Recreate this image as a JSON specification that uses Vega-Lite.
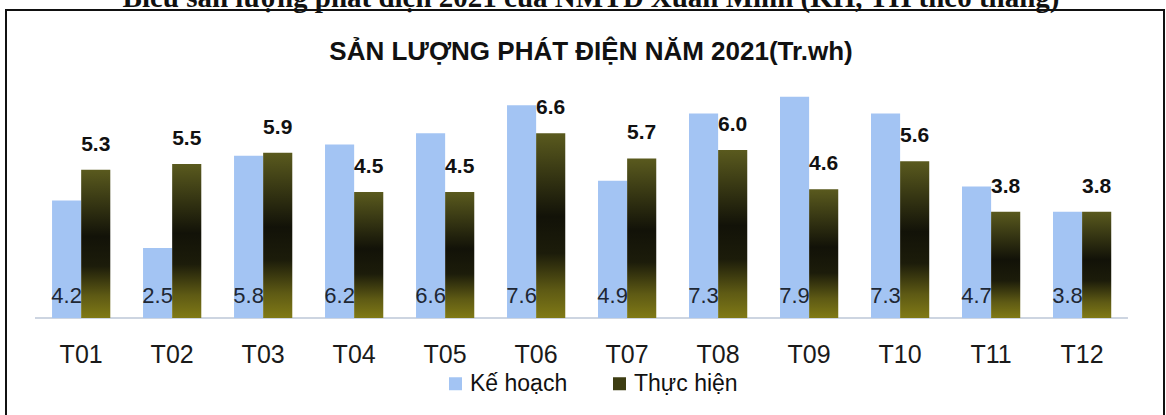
{
  "$schema": "https://vega.github.io/schema/vega-lite/v6.json",
  "width": 1158,
  "height": 410,
  "autosize": "none",
  "padding": {"left": 6, "top": 10, "right": 2, "bottom": 0},
  "background": "white",
  "config": {
    "view": {"stroke": "#111111", "strokeWidth": 2},
    "font": "Liberation Sans"
  },
  "title": {
    "text": "Biểu sản lượng phát điện 2021 của NMTĐ Xuân Minh (KH, TH theo tháng)",
    "subtitle": "SẢN LƯỢNG PHÁT ĐIỆN NĂM 2021(Tr.wh)",
    "font": "Liberation Serif",
    "fontSize": 29,
    "fontWeight": "bold",
    "color": "#111111",
    "subtitleFont": "Liberation Sans",
    "subtitleFontSize": 26,
    "subtitleFontWeight": "bold",
    "subtitleColor": "#111111",
    "subtitlePadding": 26,
    "anchor": "middle",
    "frame": "group",
    "offset": -55,
    "dx": 6
  },
  "data": {
    "values": [
      {"month": "T01", "series": "Kế hoạch", "value": 4.2},
      {"month": "T02", "series": "Kế hoạch", "value": 2.5},
      {"month": "T03", "series": "Kế hoạch", "value": 5.8},
      {"month": "T04", "series": "Kế hoạch", "value": 6.2},
      {"month": "T05", "series": "Kế hoạch", "value": 6.6},
      {"month": "T06", "series": "Kế hoạch", "value": 7.6},
      {"month": "T07", "series": "Kế hoạch", "value": 4.9},
      {"month": "T08", "series": "Kế hoạch", "value": 7.3},
      {"month": "T09", "series": "Kế hoạch", "value": 7.9},
      {"month": "T10", "series": "Kế hoạch", "value": 7.3},
      {"month": "T11", "series": "Kế hoạch", "value": 4.7},
      {"month": "T12", "series": "Kế hoạch", "value": 3.8},
      {"month": "T01", "series": "Thực hiện", "value": 5.3},
      {"month": "T02", "series": "Thực hiện", "value": 5.5},
      {"month": "T03", "series": "Thực hiện", "value": 5.9},
      {"month": "T04", "series": "Thực hiện", "value": 4.5},
      {"month": "T05", "series": "Thực hiện", "value": 4.5},
      {"month": "T06", "series": "Thực hiện", "value": 6.6},
      {"month": "T07", "series": "Thực hiện", "value": 5.7},
      {"month": "T08", "series": "Thực hiện", "value": 6.0},
      {"month": "T09", "series": "Thực hiện", "value": 4.6},
      {"month": "T10", "series": "Thực hiện", "value": 5.6},
      {"month": "T11", "series": "Thực hiện", "value": 3.8},
      {"month": "T12", "series": "Thực hiện", "value": 3.8}
    ]
  },
  "encoding": {
    "x": {
      "field": "month",
      "type": "nominal",
      "sort": null,
      "scale": {
        "domain": ["T01", "T02", "T03", "T04", "T05", "T06", "T07", "T08", "T09", "T10", "T11", "T12"],
        "paddingInner": 0.36, "paddingOuter": 0.543, "align": 0.466
      },
      "axis": {
        "orient": "bottom",
        "offset": -102,
        "domain": false,
        "ticks": false,
        "grid": false,
        "title": null,
        "labelAngle": 0,
        "labelFont": "Liberation Sans",
        "labelFontSize": 25,
        "labelColor": "#1a1a1a",
        "labelPadding": 24
      }
    }
  },
  "layer": [
    {
      "mark": {"type": "rule", "xOffset": -17, "x2Offset": 16, "color": "#cdd4e0", "strokeWidth": 1.5},
      "encoding": {
        "x": {"datum": "T01", "bandPosition": 0},
        "x2": {"datum": "T12", "bandPosition": 1},
        "y": {"datum": 0, "type": "quantitative", "scale": {"domain": [-3.64, 11], "nice": false, "zero": false}, "axis": null}
      }
    },
    {
      "mark": {"type": "bar"},
      "encoding": {
        "xOffset": {"field": "series", "type": "nominal", "scale": {"domain": ["Kế hoạch", "Thực hiện"], "paddingInner": 0, "paddingOuter": 0}},
        "y": {"field": "value", "type": "quantitative", "axis": null},
        "color": {
          "field": "series",
          "type": "nominal",
          "scale": {"domain": ["Kế hoạch", "Thực hiện"], "range": ["#a3c4f3", "#3d3d12"]},
          "legend": {
            "orient": "none",
            "legendX": 438,
            "legendY": 362,
            "direction": "horizontal",
            "title": null,
            "symbolType": "square",
            "symbolSize": 169,
            "symbolStrokeWidth": 0,
            "labelFont": "Liberation Sans",
            "labelFontSize": 23,
            "labelColor": "#111111",
            "labelOffset": 3,
            "columnPadding": 40
          },
          "condition": {
            "test": "datum.series === 'Thực hiện'",
            "value": {
              "gradient": "linear",
              "x1": 0, "y1": 0, "x2": 0, "y2": 1,
              "stops": [
                {"offset": 0, "color": "#5a5a1e"},
                {"offset": 0.2, "color": "#3a3a14"},
                {"offset": 0.45, "color": "#121208"},
                {"offset": 0.65, "color": "#1c1c0a"},
                {"offset": 0.85, "color": "#5e5a14"},
                {"offset": 1, "color": "#807a16"}
              ]
            }
          }
        }
      }
    },
    {
      "transform": [{"filter": "datum.series === 'Thực hiện'"}],
      "mark": {"type": "text", "baseline": "alphabetic", "dy": -19, "font": "Liberation Sans", "fontSize": 21, "fontWeight": "bold", "color": "#111111"},
      "encoding": {
        "xOffset": {"field": "series", "type": "nominal"},
        "y": {"field": "value", "type": "quantitative"},
        "text": {"field": "value", "type": "quantitative", "format": ".1f"}
      }
    },
    {
      "transform": [{"filter": "datum.series === 'Kế hoạch'"}],
      "mark": {"type": "text", "baseline": "alphabetic", "dy": -15, "font": "Liberation Sans", "fontSize": 22, "color": "#1e2733"},
      "encoding": {
        "xOffset": {"field": "series", "type": "nominal"},
        "y": {"datum": 0, "type": "quantitative"},
        "text": {"field": "value", "type": "quantitative", "format": ".1f"}
      }
    }
  ]
}
